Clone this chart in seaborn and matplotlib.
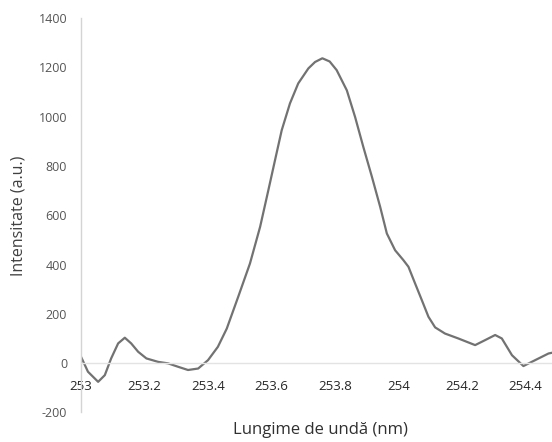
import matplotlib
matplotlib.use("Agg")
import matplotlib.pyplot as plt
import seaborn as sns
import pandas as pd

# Wavelength (nm) and intensity (a.u.)
wavelength = [253.000, 253.022, 253.054, 253.075, 253.095, 253.117, 253.138, 253.158,
              253.180, 253.206, 253.243, 253.274, 253.306, 253.337, 253.369, 253.400,
              253.431, 253.459, 253.495, 253.532, 253.564, 253.590, 253.611, 253.632,
              253.658, 253.684, 253.716, 253.737, 253.760, 253.783, 253.805, 253.837,
              253.863, 253.889, 253.916, 253.942, 253.963, 253.989, 254.015, 254.031,
              254.052, 254.073, 254.094, 254.115, 254.146, 254.188, 254.241, 254.272,
              254.304, 254.325, 254.357, 254.393, 254.430, 254.472, 254.483]
intensity = [26, -35, -76, -49, 19, 80, 103, 80,
             46, 19, 5, -1, -15, -28, -22, 12,
             66, 140, 269, 404, 553, 702, 824, 945,
             1054, 1135, 1196, 1222, 1237, 1224, 1189, 1107,
             999, 877, 756, 634, 526, 458, 418, 391,
             323, 256, 188, 145, 120, 100, 73, 93,
             114, 100, 32, -12, 12, 39, 42]

x_ticks = [253, 253.2, 253.4, 253.6, 253.8, 254, 254.2, 254.4]
x_tick_labels = ["253", "253.2", "253.4", "253.6", "253.8", "254", "254.2", "254.4"]
y_ticks = [-200, 0, 200, 400, 600, 800, 1000, 1200, 1400]
y_tick_labels = ["-200", "0", "200", "400", "600", "800", "1000", "1200", "1400"]

df = pd.DataFrame({"wavelength": wavelength, "intensity": intensity})

sns.set_style("white")
plt.rcParams["font.family"] = ["Open Sans", "DejaVu Sans"]

fig = plt.figure(figsize=(5.52, 4.42), dpi=100)
ax = fig.add_axes([0.1467, 0.067, 0.8533, 0.892])

sns.lineplot(data=df, x="wavelength", y="intensity", ax=ax,
             color="#727272", linewidth=1.6, sort=False)
for ln in ax.get_lines():
    ln.set_solid_joinstyle("round")

ax.set_xlim(253.0, 254.483)
ax.set_ylim(-200, 1400)

ax.spines["top"].set_visible(False)
ax.spines["right"].set_visible(False)
ax.spines["bottom"].set_position(("data", 0))
ax.spines["bottom"].set_color("#e3e3e3")
ax.spines["left"].set_color("#d4d4d4")
ax.spines["bottom"].set_linewidth(1.0)
ax.spines["left"].set_linewidth(1.0)

ax.set_xticks(x_ticks)
ax.set_xticklabels(x_tick_labels, fontsize=9.5, color="#262626")
ax.set_yticks(y_ticks)
ax.set_yticklabels(y_tick_labels, fontsize=9, color="#555555")
ax.tick_params(axis="x", length=0, pad=12)
ax.tick_params(axis="y", length=0, pad=10)

ax.set_xlabel("")
ax.set_ylabel("")
fig.text(0.580, 0.027, "Lungime de undă (nm)", ha="center", va="center",
         fontsize=12, color="#303030")
fig.text(0.033, 0.511, "Intensitate (a.u.)", ha="center", va="center",
         rotation=90, fontsize=11.5, color="#404040")

fig.savefig("out.png", dpi=100)
